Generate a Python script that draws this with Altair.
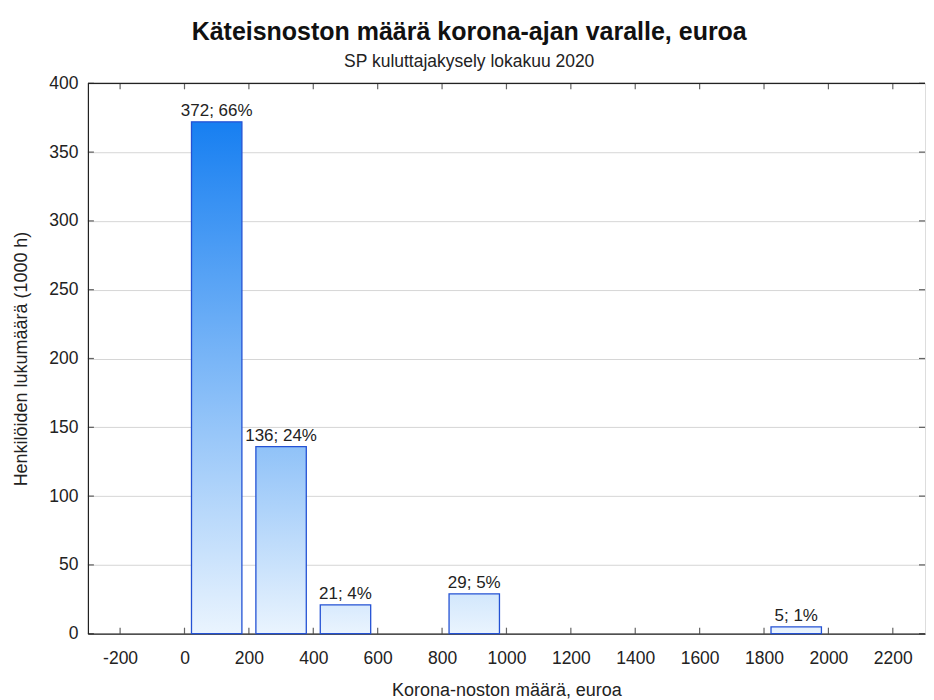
import altair as alt
import pandas as pd

bin_start = [0, 200, 400, 800, 1800]
bin_end = [200, 400, 600, 1000, 2000]
counts = [372, 136, 21, 29, 5]
shares = [66, 24, 4, 5, 1]
x_ticks = list(range(-200, 2201, 200))
y_ticks = list(range(0, 401, 50))

X_DOMAIN = [-300, 2300]
Y_DOMAIN = [0, 400]
FONT = "Liberation Sans"

LIGHT = (234, 244, 254)
DARK = (10, 120, 240)


def shade(v):
    t = (v / Y_DOMAIN[1]) ** 0.85
    c = [round(LIGHT[k] + t * (DARK[k] - LIGHT[k])) for k in range(3)]
    return "#%02x%02x%02x" % tuple(c)


df = pd.DataFrame({"start": bin_start, "end": bin_end, "count": counts, "share": shares})
df["mid"] = (df["start"] + df["end"]) / 2
df["label"] = [f"{c}; {s}%" for c, s in zip(counts, shares)]

xaxis = alt.Axis(values=x_ticks, ticks=False, grid=False, domainColor="#222", domainWidth=1.2,
                 labelFontSize=17.5, labelColor="#222", labelPadding=16, labelFont=FONT,
                 labelExpr="'' + datum.value",
                 title="Korona-noston määrä, euroa", titleFontSize=18, titleFontWeight="normal",
                 titleColor="#222", titleFont=FONT, titlePadding=14)
yaxis = alt.Axis(values=y_ticks, ticks=False, grid=True, gridColor="#d6d6d6", domainColor="#222",
                 domainWidth=1.2, labelFontSize=17.5, labelColor="#222", labelPadding=10, labelFont=FONT,
                 title="Henkilöiden lukumäärä (1000 h)", titleFontSize=18, titleFontWeight="normal",
                 titleColor="#222", titleFont=FONT, titlePadding=18)
xscale = alt.Scale(domain=X_DOMAIN, nice=False, zero=False)
yscale = alt.Scale(domain=Y_DOMAIN, nice=False)


def X(field):
    return alt.X(field, type="quantitative", scale=xscale, axis=xaxis)


def Y(field):
    return alt.Y(field, type="quantitative", scale=yscale, axis=yaxis)


layers = []
for i in range(len(df)):
    row = df.iloc[[i]]
    grad = alt.Gradient(gradient="linear", x1=0, x2=0, y1=0, y2=1,
                        stops=[alt.GradientStop(color=shade(counts[i]), offset=0),
                               alt.GradientStop(color=shade(0), offset=1)])
    layers.append(
        alt.Chart(row).mark_bar(color=grad, stroke="#2452d4", strokeWidth=1.3,
                                xOffset=7, x2Offset=-7)
        .encode(x=X("start"), x2="end", y=Y("count"), y2=alt.datum(0))
    )

text = alt.Chart(df).mark_text(baseline="bottom", dy=-2, fontSize=17, font=FONT, color="#222").encode(
    x=X("mid"), y=Y("count"), text="label:N")

xt = pd.DataFrame({"start": x_ticks})
yt = pd.DataFrame({"count": y_ticks})

xt_bottom = alt.Chart(xt).mark_tick(orient="vertical", size=6, thickness=1.2, color="#222", yOffset=-3).encode(
    x=X("start"), y=alt.datum(0))
xt_top = alt.Chart(xt).mark_tick(orient="vertical", size=6, thickness=1.2, color="#222", yOffset=3).encode(
    x=X("start"), y=alt.datum(400))
yt_left = alt.Chart(yt).mark_tick(orient="horizontal", size=6, thickness=1.2, color="#222", xOffset=3).encode(
    x=alt.datum(-300), y=Y("count"))
yt_right = alt.Chart(yt).mark_tick(orient="horizontal", size=6, thickness=1.2, color="#222", xOffset=-3).encode(
    x=alt.datum(2300), y=Y("count"))
top_rule = alt.Chart(pd.DataFrame({"count": [400]})).mark_rule(color="#222", strokeWidth=1.2).encode(
    y=Y("count"))

chart = alt.layer(*layers, text, xt_bottom, xt_top, yt_left, yt_right, top_rule).properties(
    width=838, height=551,
    padding={"left": 4, "top": 11, "right": 0, "bottom": 0},
    title=alt.TitleParams(
        text="Käteisnoston määrä korona-ajan varalle, euroa",
        subtitle="SP kuluttajakysely lokakuu 2020",
        anchor="middle", frame="bounds", font=FONT, fontSize=25, fontWeight="bold", color="#111",
        subtitleFont=FONT, subtitleFontSize=17.5, subtitleColor="#222", subtitlePadding=8, offset=4,
    ),
).configure_view(stroke="#c8c8c8", strokeWidth=1).configure(background="white")

chart.save("out.html", embed_options={"renderer": "svg", "actions": False})
